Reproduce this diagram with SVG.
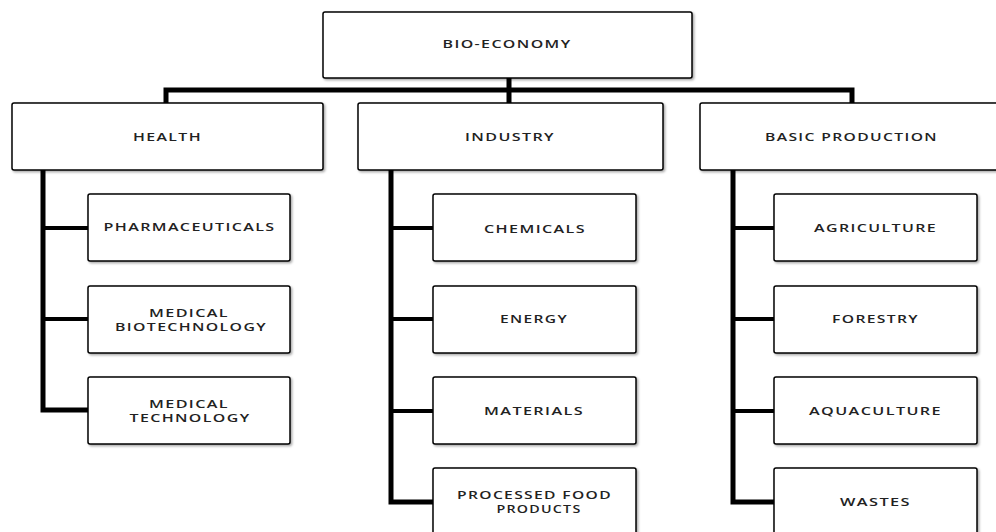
<svg xmlns="http://www.w3.org/2000/svg" width="996" height="532" viewBox="0 0 996 532">
<defs>
<filter id="sh" x="-5%" y="-10%" width="115%" height="130%">
<feDropShadow dx="1.5" dy="1.5" stdDeviation="1" flood-color="#000" flood-opacity="0.35"/>
</filter>
</defs>
<style>
.box{fill:#fff;stroke:#000;stroke-width:1.5;filter:url(#sh)}
.t{font-family:"Open Sans","DejaVu Sans",sans-serif;font-size:11.5px;font-weight:600;letter-spacing:1px;fill:#222;text-anchor:middle}
.c{fill:none;stroke:#000;stroke-linejoin:miter;stroke-linecap:square}
.m{stroke-width:5}
.s{stroke-width:4}
</style>
<rect width="996" height="532" fill="#fff"/>
<g id="connectors">
<path class="c m" d="M509 78V103M166 103V90H852V103"/>
<path class="c m" d="M43 170V410H88"/>
<path class="c s" d="M43 228H88M43 319H88"/>
<path class="c m" d="M391 170V502H433"/>
<path class="c s" d="M391 228H433M391 319H433M391 411H433"/>
<path class="c m" d="M733 170V502H774"/>
<path class="c s" d="M733 228H774M733 319H774M733 411H774"/>
</g>
<g id="bio-economy"><rect class="box" x="323" y="12" width="369" height="66" rx="2"/><text class="t" x="507" y="48" textLength="129" lengthAdjust="spacingAndGlyphs">BIO-ECONOMY</text></g>
<g id="health"><rect class="box" x="12" y="103" width="311" height="67" rx="2"/><text class="t" x="167.5" y="140.5" textLength="69" lengthAdjust="spacingAndGlyphs">HEALTH</text></g>
<g id="industry"><rect class="box" x="358" y="103" width="305" height="67" rx="2"/><text class="t" x="510" y="140.5" textLength="90" lengthAdjust="spacingAndGlyphs">INDUSTRY</text></g>
<g id="basic-production"><rect class="box" x="700" y="103" width="304" height="67" rx="2"/><text class="t" x="851.5" y="140.5" textLength="173" lengthAdjust="spacingAndGlyphs">BASIC PRODUCTION</text></g>
<g id="pharmaceuticals"><rect class="box" x="88" y="194" width="202" height="67" rx="2"/><text class="t" x="189.5" y="231" textLength="172" lengthAdjust="spacingAndGlyphs">PHARMACEUTICALS</text></g>
<g id="medical-biotechnology"><rect class="box" x="88" y="286" width="202" height="67" rx="2"/><text class="t" x="189" y="316.5" textLength="80" lengthAdjust="spacingAndGlyphs">MEDICAL</text><text class="t" x="191" y="330.5" textLength="152" lengthAdjust="spacingAndGlyphs">BIOTECHNOLOGY</text></g>
<g id="medical-technology"><rect class="box" x="88" y="377" width="202" height="67" rx="2"/><text class="t" x="189" y="407.5" textLength="80" lengthAdjust="spacingAndGlyphs">MEDICAL</text><text class="t" x="190" y="421.5" textLength="121" lengthAdjust="spacingAndGlyphs">TECHNOLOGY</text></g>
<g id="chemicals"><rect class="box" x="433" y="194" width="203" height="67" rx="2"/><text class="t" x="535" y="232.5" textLength="102" lengthAdjust="spacingAndGlyphs">CHEMICALS</text></g>
<g id="energy"><rect class="box" x="433" y="286" width="203" height="67" rx="2"/><text class="t" x="534" y="322.5" textLength="68" lengthAdjust="spacingAndGlyphs">ENERGY</text></g>
<g id="materials"><rect class="box" x="433" y="377" width="203" height="67" rx="2"/><text class="t" x="534" y="414.5" textLength="100" lengthAdjust="spacingAndGlyphs">MATERIALS</text></g>
<g id="processed-food-products"><rect class="box" x="433" y="468" width="203" height="67" rx="2"/><text class="t" x="534.5" y="498.5" textLength="155" lengthAdjust="spacingAndGlyphs">PROCESSED FOOD</text><text class="t" x="539" y="512.5" textLength="85" lengthAdjust="spacingAndGlyphs">PRODUCTS</text></g>
<g id="agriculture"><rect class="box" x="774" y="194" width="203" height="67" rx="2"/><text class="t" x="875.5" y="231.5" textLength="123" lengthAdjust="spacingAndGlyphs">AGRICULTURE</text></g>
<g id="forestry"><rect class="box" x="774" y="286" width="203" height="67" rx="2"/><text class="t" x="875.5" y="322.5" textLength="87" lengthAdjust="spacingAndGlyphs">FORESTRY</text></g>
<g id="aquaculture"><rect class="box" x="774" y="377" width="203" height="67" rx="2"/><text class="t" x="875.5" y="414.5" textLength="133" lengthAdjust="spacingAndGlyphs">AQUACULTURE</text></g>
<g id="wastes"><rect class="box" x="774" y="468" width="203" height="67" rx="2"/><text class="t" x="875.5" y="505.5" textLength="71" lengthAdjust="spacingAndGlyphs">WASTES</text></g>
</svg>
